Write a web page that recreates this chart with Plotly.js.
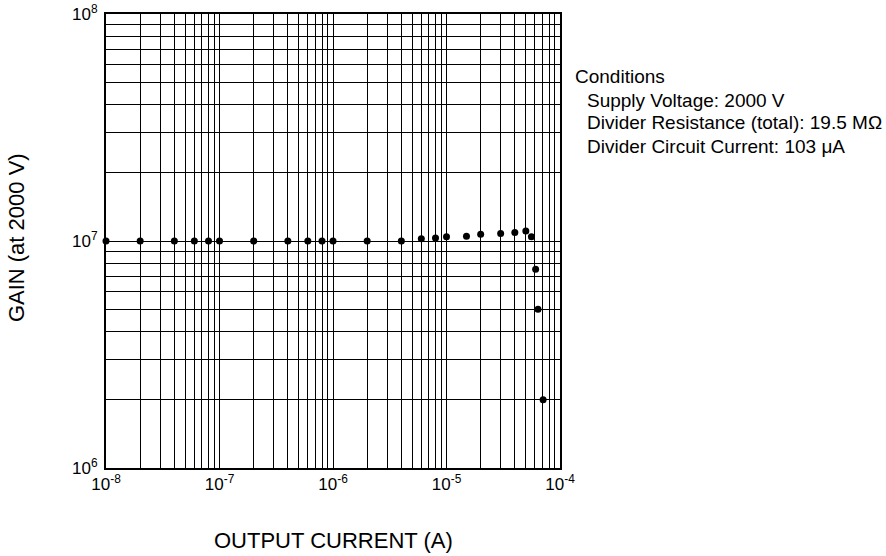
<!DOCTYPE html>
<html>
<head>
<meta charset="utf-8">
<script src="https://cdn.plot.ly/plotly-3.0.1.min.js"></script>
<style>html,body{margin:0;padding:0;background:#fff;}#chart{width:886px;height:556px;}</style>
</head>
<body>
<div id="chart"></div>
<script>
var outputCurrent = [1e-8, 2e-8, 4e-8, 6e-8, 8e-8, 1e-7, 2e-7, 4e-7, 6e-7, 8e-7, 1e-6, 2e-6, 4e-6, 6e-6, 8e-6, 1e-5, 1.5e-5, 2e-5, 3e-5, 4e-5, 5e-5, 5.6e-5, 6.1e-5, 6.4e-5, 7.1e-5];
var gain = [1e7, 1e7, 1e7, 1e7, 1e7, 1e7, 1e7, 1e7, 1e7, 1e7, 1e7, 1e7, 1e7, 1.023e7, 1.03e7, 1.045e7, 1.05e7, 1.07e7, 1.08e7, 1.09e7, 1.106e7, 1.045e7, 7.5e6, 5.0e6, 2.0e6];
var xTickVals = [1e-8, 1e-7, 1e-6, 1e-5, 1e-4];
var xTickText = ['10<sup>-8</sup>', '10<sup>-7</sup>', '10<sup>-6</sup>', '10<sup>-5</sup>', '10<sup>-4</sup>'];
var yTickVals = [1e6, 1e7, 1e8];
var yTickText = ['10<sup>6</sup>', '10<sup>7</sup>', '10<sup>8</sup>'];
var conditionLines = ['Conditions', 'Supply Voltage: 2000 V', 'Divider Resistance (total): 19.5 MΩ', 'Divider Circuit Current: 103 μA'];

function minorVals(lo, hi) {
  var out = [];
  for (var e = lo; e < hi; e++) {
    for (var m = 2; m <= 9; m++) out.push(m * Math.pow(10, e));
  }
  return out;
}

var FONT = 'Liberation Sans, Arial, Helvetica, sans-serif';

var trace = {
  x: outputCurrent, y: gain, type: 'scatter', mode: 'markers',
  marker: {color: '#000', size: 7}, hoverinfo: 'x+y', showlegend: false, cliponaxis: false
};

var annotations = [
  {text: 'GAIN (at 2000 V)', xref: 'paper', yref: 'paper', x: -0.198, y: 0.5066, textangle: -90, showarrow: false, font: {family: FONT, size: 22, color: '#000'}, xanchor: 'center', yanchor: 'middle'},
  {text: 'OUTPUT CURRENT (A)', xref: 'paper', yref: 'paper', x: 0.5, y: -0.1586, showarrow: false, font: {family: FONT, size: 22, color: '#000'}, xanchor: 'center', yanchor: 'middle'}
];
var condX = [573, 585, 585, 585];
var condY = [77, 100, 123, 146];
for (var i = 0; i < conditionLines.length; i++) {
  annotations.push({text: conditionLines[i], xref: 'paper', yref: 'paper', x: (condX[i] - 106) / 454, y: (468 - condY[i]) / 454, xanchor: 'left', yanchor: 'middle', showarrow: false, font: {family: FONT, size: 19, color: '#000'}});
}

var layout = {
  width: 886, height: 556,
  margin: {l: 106, r: 326, t: 14, b: 88, pad: 0},
  paper_bgcolor: '#fff', plot_bgcolor: '#fff',
  font: {family: FONT, size: 17, color: '#000'},
  xaxis: {
    type: 'log', range: [-8, -4], tickmode: 'array', tickvals: xTickVals, ticktext: xTickText,
    showgrid: true, gridcolor: '#000', gridwidth: 1,
    showline: true, linecolor: '#000', linewidth: 2, mirror: true,
    ticks: '', zeroline: false, tickfont: {family: FONT, size: 17, color: '#000'},
    minor: {tickmode: 'array', tickvals: minorVals(-8, -4), showgrid: true, gridcolor: '#000', gridwidth: 1, ticks: ''}
  },
  yaxis: {
    type: 'log', range: [6, 8], tickmode: 'array', tickvals: yTickVals, ticktext: yTickText,
    showgrid: true, gridcolor: '#000', gridwidth: 1,
    showline: true, linecolor: '#000', linewidth: 2, mirror: true,
    ticks: '', zeroline: false, tickfont: {family: FONT, size: 17, color: '#000'},
    ticklabelstandoff: 3,
    minor: {tickmode: 'array', tickvals: minorVals(6, 8), showgrid: true, gridcolor: '#000', gridwidth: 1, ticks: ''}
  },
  annotations: annotations
};

Plotly.newPlot('chart', [trace], layout, {displayModeBar: false, staticPlot: true});
</script>
</body>
</html>
